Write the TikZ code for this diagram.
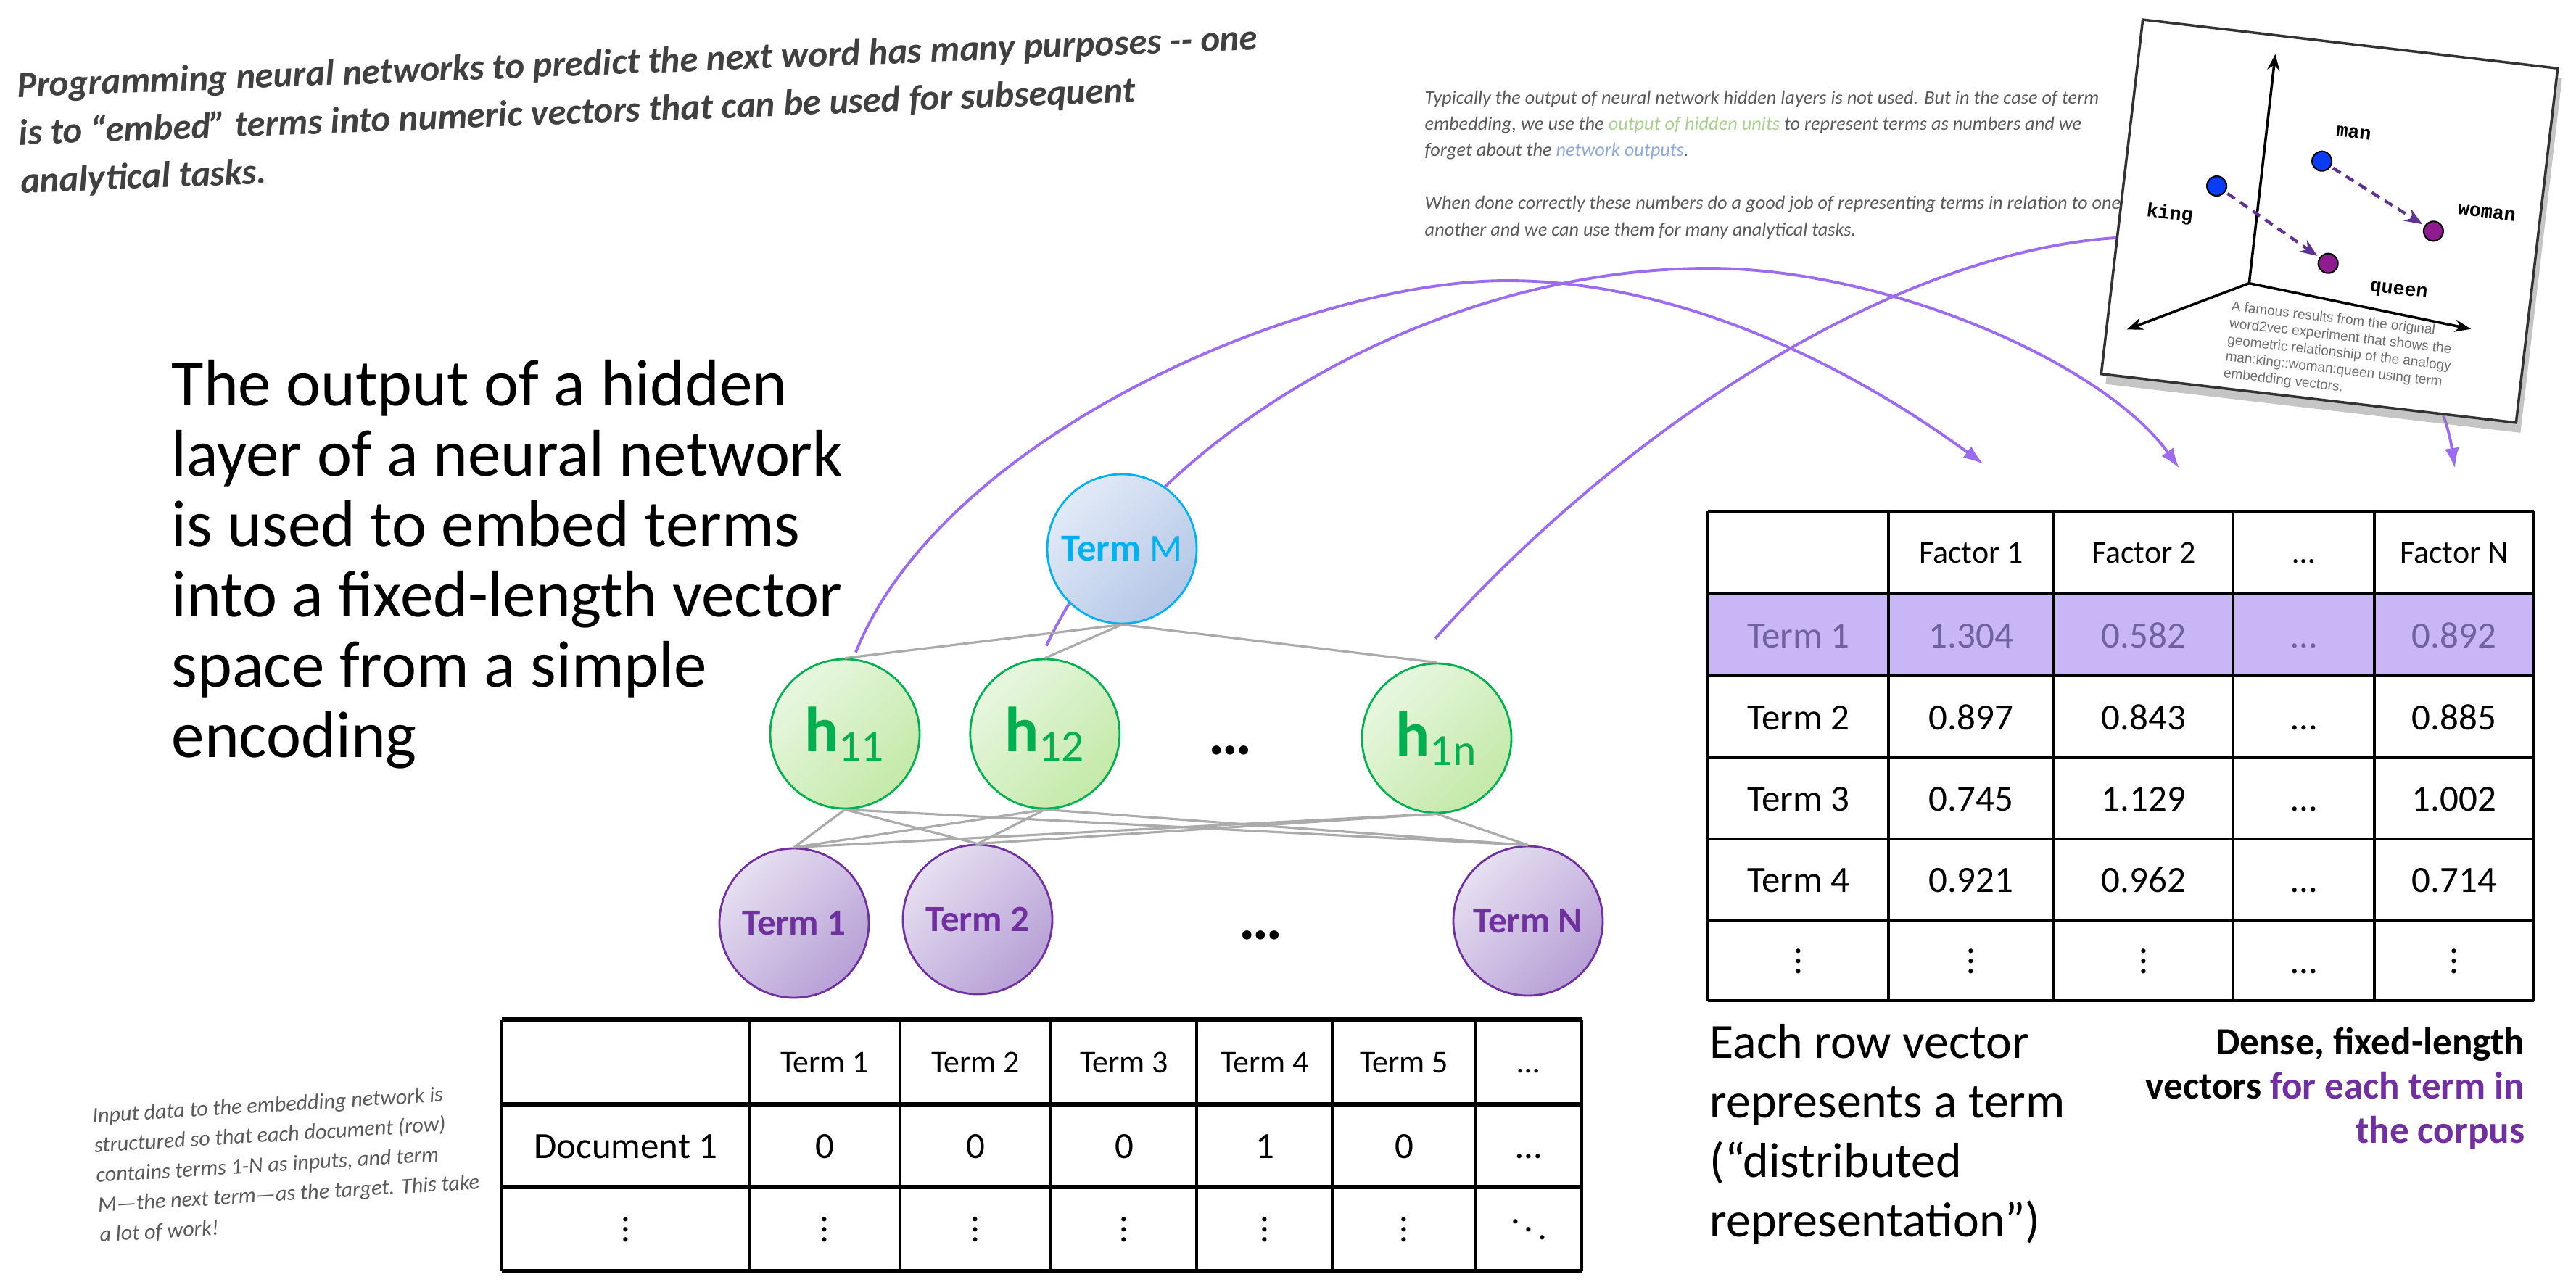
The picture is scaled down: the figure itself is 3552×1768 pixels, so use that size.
\documentclass[tikz,border=0pt]{standalone}
\usepackage{amsmath,amssymb}
\usepackage{fontspec}
\setmainfont{Carlito}
\newfontfamily\handfont{Carlito}
\newfontfamily\plotmono{Liberation Mono}
\newfontfamily\plotsans{Liberation Sans}
\usepackage{xcolor}
\usepackage{tikz}
\usetikzlibrary{arrows.meta,positioning,shadows}
\definecolor{inkgray}{HTML}{404040}
\definecolor{notegray}{HTML}{5A5A5A}
\definecolor{hiddengreen}{HTML}{A9D18E}
\definecolor{outblue}{HTML}{8FAADC}
\definecolor{arcpurple}{HTML}{9B6BF2}
\definecolor{termpurple}{HTML}{7030A0}
\definecolor{termfillA}{HTML}{E6DFF1}
\definecolor{termfillB}{HTML}{B7A0D6}
\definecolor{unitgreen}{HTML}{00B050}
\definecolor{unitfillA}{HTML}{E8F7E0}
\definecolor{unitfillB}{HTML}{C3E9A8}
\definecolor{outcyan}{HTML}{00B0F0}
\definecolor{outfillA}{HTML}{E2EAF7}
\definecolor{outfillB}{HTML}{B4C7E7}
\definecolor{rowlilac}{HTML}{C8B6F6}
\definecolor{rowtext}{HTML}{6F62A3}
\definecolor{wiregray}{HTML}{ABABAB}
\definecolor{dotblue}{HTML}{0A3CF5}
\definecolor{dotpurple}{HTML}{8E1C8E}
\definecolor{vecpurple}{HTML}{5E3390}
\definecolor{capgray}{HTML}{6E6E6E}
\pgfdeclarelayer{background}
\pgfsetlayers{background,main}

\begin{document}
\begin{tikzpicture}[x=0.1mm,y=-0.1mm,>=Latex,
    wire/.style={draw=wiregray,line width=0.9pt},
    embedarc/.style={-{Latex[length=2.8mm,width=2mm]},draw=arcpurple,line width=1.1pt},
    unit/.style={circle,minimum size=20.6mm,inner sep=0pt,line width=0.8pt},
    inputunit/.style={unit,draw=termpurple,top color=termfillA,bottom color=termfillB,shading angle=45,
      text=termpurple,font=\fontsize{14.5}{16}\selectfont\bfseries},
    hiddenunit/.style={unit,draw=unitgreen,top color=unitfillA,bottom color=unitfillB,shading angle=45,
      text=unitgreen,font=\fontsize{25}{25}\selectfont},
    outputunit/.style={unit,draw=outcyan,top color=outfillA,bottom color=outfillB,shading angle=45,
      text=outcyan,font=\fontsize{15}{16}\selectfont},
    gapdots/.style={inner sep=0pt,font=\fontsize{24}{24}\selectfont\bfseries},
    gridline/.style={draw=black,line width=0.9pt},
    ruleline/.style={draw=black,line width=1.5pt},
    cell/.style={inner sep=0pt,text height=10pt,text depth=0pt,font=\fontsize{14.5}{16}\selectfont},
    headcell/.style={inner sep=0pt,text height=8.5pt,text depth=0pt,font=\fontsize{12.5}{14}\selectfont},
    wdot/.style={circle,draw=black,line width=0.6pt,minimum size=2.7mm,inner sep=0pt},
    wlabel/.style={inner sep=0pt,font=\plotmono\bfseries\fontsize{7.6}{8}\selectfont},
    plotaxis/.style={-{Stealth[length=2.2mm,width=1.7mm]},line width=1pt},
    analogy/.style={-{Stealth[length=2.4mm,width=1.9mm]},draw=vecpurple,line width=1.2pt,
      dash pattern=on 3.5pt off 2.5pt,shorten >=1pt,shorten <=1pt}]
  \useasboundingbox (0,0) rectangle (3552,1768);
  \begin{pgfonlayer}{background}
    \fill[white] (0,0) rectangle (3552,1768);
  \end{pgfonlayer}

  \node[anchor=north west,rotate=2.2,inner sep=0pt,align=left,text=inkgray,
    font=\handfont\bfseries\itshape\fontsize{14.45}{18.8}\selectfont] (headline) at (22,98) {
    Programming neural networks to predict the next word has many purposes -{}- one\\
    is to “embed” terms into numeric vectors that can be used for subsequent\\
    analytical tasks.};

  \node[anchor=north west,inner sep=0pt,align=left,text=notegray,
    font=\handfont\itshape\fontsize{7.5}{10.36}\selectfont] (hiddennote) at (1964,124) {
    Typically the output of neural network hidden layers is not used. But in the case of term\\
    embedding, we use the \textcolor{hiddengreen}{output of hidden units} to represent terms as numbers and we\\
    forget about the \textcolor{outblue}{network outputs}.\\[10.36pt]
    When done correctly these numbers do a good job of representing terms in relation to one\\
    another and we can use them for many analytical tasks.};

  \node[anchor=north west,inner sep=0pt,align=left,
    font=\fontsize{25.9}{27.6}\selectfont] (claim) at (236,496) {
    The output of a hidden\\
    layer of a neural network\\
    is used to embed terms\\
    into a fixed-length vector\\
    space from a simple\\
    encoding};

  \node[anchor=north west,rotate=3.5,inner sep=0pt,align=left,text=notegray,
    font=\handfont\itshape\fontsize{8.6}{11.7}\selectfont] (inputnote) at (126,1527) {
    Input data to the embedding network is\\
    structured so that each document (row)\\
    contains terms 1-N as inputs, and term\\
    M—the next term—as the target. This take\\
    a lot of work!};

  \node[outputunit] (termM) at (1547,757) {\textbf{Term} M};
  \node[hiddenunit] (h11) at (1165,1012) {\textbf{h}\textsubscript{11}};
  \node[hiddenunit,right=6.7mm of h11] (h12) {\textbf{h}\textsubscript{12}};
  \node[hiddenunit] (h1n) at (1981,1018) {\textbf{h}\textsubscript{1n}};
  \node[gapdots] (hdots) at (1696,1035) {…};
  \node[inputunit] (term1) at (1095,1273) {Term 1};
  \node[inputunit] (term2) at (1348,1268) {Term 2};
  \node[inputunit] (termN) at (2107,1270) {Term N};
  \node[gapdots] (tdots) at (1738,1290) {…};

  \foreach \h in {h11,h12,h1n} {
    \draw[wire] (termM.south) -- (\h.north);
    \foreach \t in {term1,term2,termN}
      \draw[wire] (\h.south) -- (\t.north);
  }

  \coordinate (tipA) at (2735,640);
  \coordinate (tipB) at (3005,646);
  \coordinate (tipC) at (3385,646);
  \begin{pgfonlayer}{background}
    \draw[embedarc] ([shift={(15,-8)}]h11.north) .. controls (1300,600) and (1800,387) .. (2078,387)
      .. controls (2300,387) and (2530,490) .. (tipA);
    \draw[embedarc] ([shift={(2,-17)}]h12.north) .. controls (1580,600) and (1980,370) .. (2356,370)
      .. controls (2600,370) and (2900,500) .. (tipB);
    \draw[embedarc] ([shift={(-2,-33)}]h1n.north) .. controls (2230,600) and (2600,350) .. (2917,328)
      .. controls (3200,310) and (3360,480) .. (tipC);
  \end{pgfonlayer}

  \begin{scope}[shift={(3212,305)},rotate=-6.7,transform shape]
    \node[draw=black!80,line width=1pt,fill=white,minimum width=57.6mm,minimum height=49.2mm,
      drop shadow={shadow xshift=0.6mm,shadow yshift=-1.4mm,opacity=0.45}] (plot) at (0,0) {};
    \coordinate (origin) at (-100,98);
    \coordinate (axtop) at (-101,-220);
    \coordinate (axleft) at (-260,181);
    \coordinate (axright) at (211,125);
    \draw[plotaxis] (origin) -- (axtop);
    \draw[plotaxis] (origin) -- (axleft);
    \draw[plotaxis] (origin) -- (axright);
    \node[wdot,fill=dotblue] (king) at (-160,-30) {};
    \node[wdot,fill=dotblue] (man) at (-20,-81) {};
    \node[wdot,fill=dotpurple] (queen) at (5,58) {};
    \node[wdot,fill=dotpurple] (woman) at (144,-3) {};
    \draw[analogy] (king) -- (queen);
    \draw[analogy] (man) -- (woman);
    \node[wlabel] (kingword) at (-220,16) {king};
    \node[wlabel] (manword) at (19,-125) {man};
    \node[wlabel] (queenword) at (106,85) {queen};
    \node[wlabel] (womanword) at (214,-37) {woman};
    \node[anchor=north west,inner sep=0pt,align=left,text=capgray,
      font=\plotsans\fontsize{5.4}{6.6}\selectfont] (caption) at (-121,124) {
      A famous results from the original\\
      word2vec experiment that shows the\\
      geometric relationship of the analogy\\
      man:king::woman:queen using term\\
      embedding vectors.};
  \end{scope}

  \fill[rowlilac] (2355,819) rectangle (3494,932);
  \foreach \y in {705,819,932,1045,1157,1269,1380}
    \draw[gridline] (2355,\y) -- (3494,\y);
  \foreach \x in {2355,2604,2832,3079,3274,3494}
    \draw[gridline] (\x,705) -- (\x,1380);
  \node[headcell] (fac-1) at (2718,762) {Factor 1};
  \node[headcell] (fac-2) at (2956,762) {Factor 2};
  \node[headcell] (fac-dots) at (3177,762) {…};
  \node[headcell] (fac-n) at (3384,762) {Factor N};
  \foreach \y/\tc/\t/\a/\b/\n in {876/rowtext/Term 1/1.304/0.582/0.892,
      989/black/Term 2/0.897/0.843/0.885,
      1101/black/Term 3/0.745/1.129/1.002,
      1213/black/Term 4/0.921/0.962/0.714,
      1325/black/$\vdots$/$\vdots$/$\vdots$/$\vdots$} {
    \node[cell,text=\tc] (row-\y) at (2480,\y) {\t};
    \node[cell,text=\tc] (row-\y-1) at (2718,\y) {\a};
    \node[cell,text=\tc] (row-\y-2) at (2956,\y) {\b};
    \node[cell,text=\tc] (row-\y-dots) at (3177,\y) {…};
    \node[cell,text=\tc] (row-\y-n) at (3384,\y) {\n};
  }

  \node[anchor=north west,inner sep=0pt,align=left,
    font=\fontsize{19.3}{23.3}\selectfont] (rowvector) at (2357,1412) {
    Each row vector\\
    represents a term\\
    (“distributed\\
    representation”)};
  \node[anchor=north east,inner sep=0pt,align=right,
    font=\bfseries\fontsize{15.1}{17.4}\selectfont] (densenote) at (3482,1416) {
    Dense, fixed-length\\
    vectors \textcolor{termpurple}{for each term in}\\
    \textcolor{termpurple}{the corpus}};

  \foreach \y in {1406,1523,1637,1753}
    \draw[ruleline] (692,\y) -- (2181,\y);
  \foreach \x in {692,1033,1241,1449,1650,1837,2034,2181}
    \draw[gridline] (\x,1406) -- (\x,1753);
  \foreach \x/\t [count=\i] in {1137/Term 1,1345/Term 2,1550/Term 3,1744/Term 4,1936/Term 5}
    \node[headcell] (doc-h\i) at (\x,1465) {\t};
  \node[headcell] (doc-hdots) at (2108,1465) {…};
  \node[cell] (doc-1) at (863,1580) {Document 1};
  \foreach \x/\v [count=\i] in {1137/0,1345/0,1550/0,1744/1,1936/0,2108/…}
    \node[cell] (doc-1-\i) at (\x,1580) {\v};
  \foreach \x [count=\i] in {863,1137,1345,1550,1744,1936}
    \node[cell] (doc-v\i) at (\x,1695) {$\vdots$};
  \node[cell] (doc-dd) at (2108,1695) {$\ddots$};
\end{tikzpicture}
\end{document}
